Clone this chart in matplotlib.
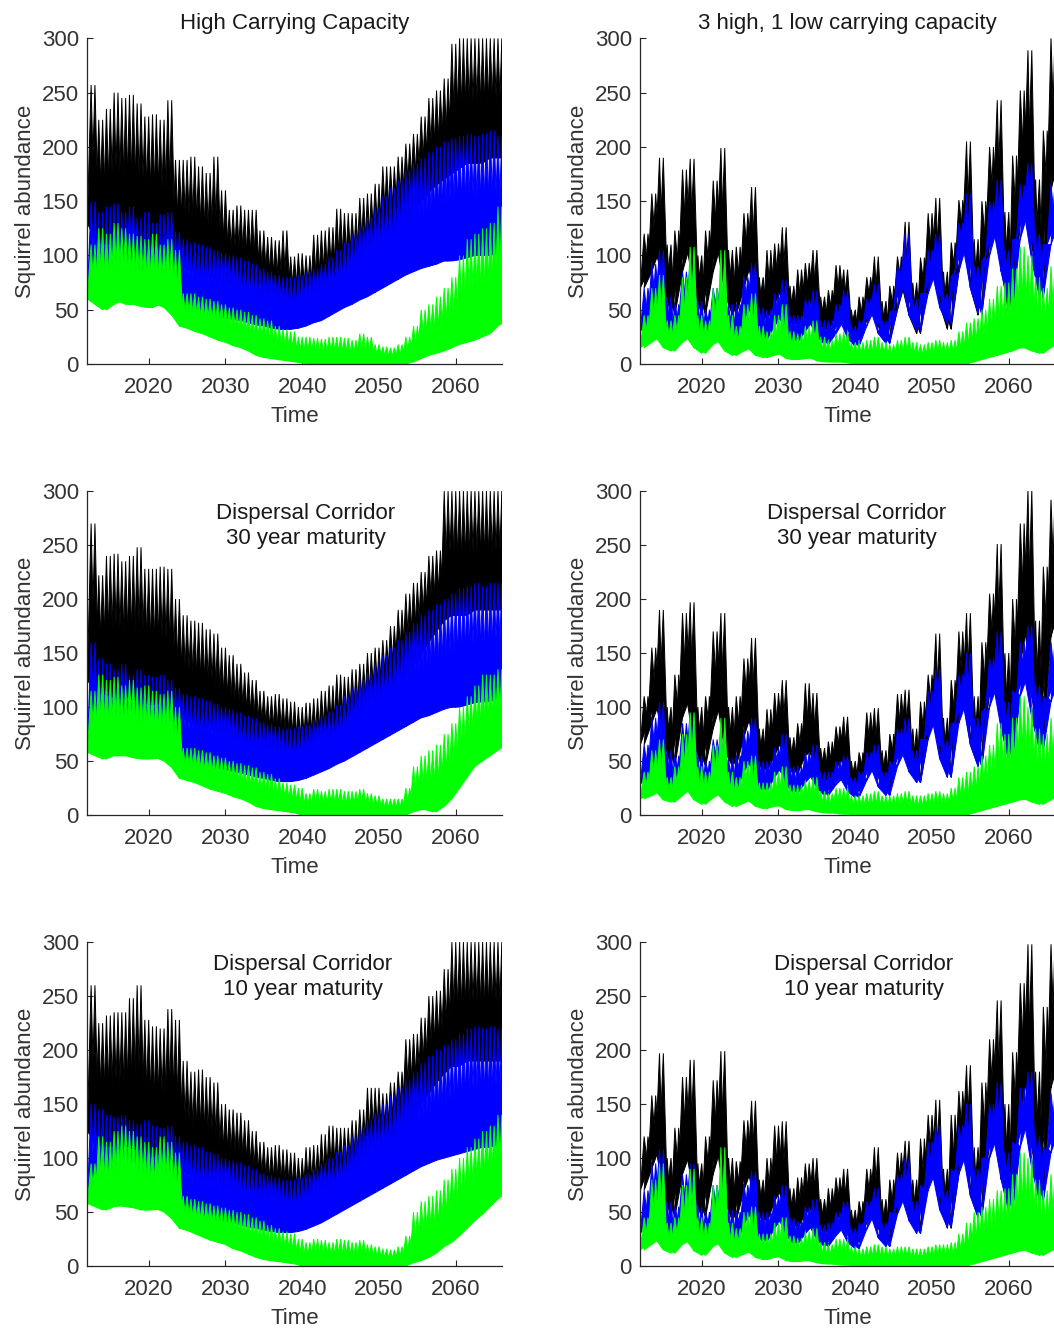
import matplotlib
matplotlib.use('Agg')
import matplotlib.pyplot as plt
import numpy as np

plt.rcParams['font.family'] = ['Liberation Sans', 'DejaVu Sans']

TEXT = '#262626'
BLACK = '#000000'
BLUE = '#0000ff'
GREEN = '#00ff00'

YEARS = np.arange(2012, 2067)
X_TICKS = [2020, 2030, 2040, 2050, 2060]
Y_TICKS = [0, 50, 100, 150, 200, 250, 300]

# ---- left column, top: High Carrying Capacity ----
A_BLACK_TOP = [257, 225, 235, 250, 245, 248, 240, 228, 230, 225, 243,
               188, 188, 191, 182, 176, 191, 160, 142, 146, 142, 142,
               123, 117, 114, 123, 99, 102, 100, 119, 123, 126, 143,
               139, 139, 153, 157, 166, 182, 182, 191, 203, 212, 228,
               245, 252, 263, 295, 300, 300, 300, 300, 300, 300, 300]
A_BLACK_LOW = [130, 115, 110, 112, 108, 110, 105, 110, 100, 105, 100,
               95, 90, 88, 85, 82, 80, 78, 75, 72, 70, 66,
               62, 58, 55, 52, 50, 48, 48, 50, 52, 56, 60,
               65, 70, 76, 82, 90, 100, 110, 120, 130, 140, 150,
               158, 165, 170, 175, 180, 185, 185, 185, 190, 190, 190]
A_BLUE_TOP = [150, 140, 145, 148, 140, 145, 135, 140, 130, 138, 140,
              122, 115, 112, 110, 108, 105, 102, 100, 98, 95, 92,
              88, 85, 82, 80, 80, 82, 85, 88, 92, 98, 105,
              112, 120, 128, 135, 145, 155, 162, 170, 178, 185, 190,
              195, 200, 205, 208, 210, 212, 210, 212, 215, 210, 205]
A_BLUE_LOW = [62, 60, 58, 60, 58, 60, 56, 58, 55, 58, 56,
              55, 50, 49, 48, 46, 45, 43, 42, 41, 40, 38,
              36, 35, 33, 32, 32, 33, 35, 38, 40, 44, 48,
              52, 55, 59, 62, 66, 70, 74, 78, 82, 85, 88,
              90, 92, 95, 95, 96, 98, 100, 100, 100, 102, 100]
A_GREEN_TOP = [110, 125, 120, 130, 125, 120, 118, 115, 120, 110, 115,
               105, 65, 65, 62, 60, 58, 55, 52, 50, 48, 45,
               42, 40, 35, 32, 30, 25, 25, 24, 23, 25, 25,
               24, 22, 28, 25, 18, 16, 15, 18, 25, 35, 50,
               55, 62, 70, 80, 100, 115, 120, 125, 130, 145, 130]
A_GREEN_LOW = [60, 55, 50, 55, 58, 55, 55, 53, 52, 55, 52,
               45, 35, 33, 30, 28, 25, 22, 20, 17, 15, 12,
               8, 6, 5, 4, 3, 2, 1, 0, 0, 0, 0,
               0, 0, 0, 0, 0, 0, 0, 0, 0, 2, 5,
               8, 10, 12, 15, 18, 20, 22, 25, 28, 35, 40]

# ---- left column, middle: corridor, 30 year maturity ----
B_BLACK_TOP = [270, 222, 240, 242, 235, 240, 248, 228, 228, 230, 228,
               200, 185, 180, 178, 172, 168, 155, 148, 140, 132, 125,
               115, 110, 112, 108, 105, 100, 104, 108, 115, 120, 130,
               128, 135, 140, 150, 155, 162, 175, 190, 205, 215, 225,
               240, 245, 300, 300, 300, 300, 300, 300, 300, 300, 290]
B_BLACK_LOW = [125, 115, 112, 110, 108, 110, 106, 108, 102, 104, 100,
               95, 90, 88, 84, 82, 80, 76, 74, 70, 68, 65,
               62, 58, 55, 52, 50, 48, 48, 50, 52, 55, 58,
               62, 68, 74, 80, 88, 98, 108, 118, 128, 138, 148,
               160, 170, 180, 185, 185, 185, 190, 190, 190, 190, 190]
B_BLUE_TOP = [160, 145, 140, 135, 140, 130, 135, 130, 128, 130, 125,
              118, 112, 110, 108, 106, 103, 100, 98, 95, 92, 90,
              86, 84, 82, 80, 80, 82, 84, 88, 92, 96, 102,
              110, 118, 125, 132, 140, 148, 155, 162, 170, 178, 185,
              190, 195, 200, 205, 210, 212, 215, 212, 215, 215, 210]
B_BLUE_LOW = [60, 58, 58, 56, 58, 56, 55, 56, 55, 56, 54,
              52, 50, 48, 47, 46, 44, 43, 42, 40, 39, 37,
              35, 34, 32, 31, 31, 32, 34, 37, 40, 43, 47,
              50, 54, 58, 62, 66, 70, 74, 78, 82, 86, 90,
              92, 95, 98, 100, 100, 102, 104, 105, 105, 108, 108]
B_GREEN_TOP = [115, 130, 125, 128, 120, 125, 118, 120, 115, 112, 115,
               100, 62, 62, 60, 58, 55, 53, 50, 48, 46, 44,
               40, 38, 34, 30, 28, 25, 20, 24, 22, 24, 24,
               22, 22, 24, 20, 18, 15, 15, 15, 25, 45, 55,
               60, 65, 75, 85, 100, 110, 120, 130, 130, 135, 120]
B_GREEN_LOW = [58, 55, 52, 55, 55, 55, 53, 52, 52, 53, 50,
               44, 34, 32, 30, 27, 24, 22, 20, 17, 15, 12,
               8, 6, 5, 4, 3, 2, 0, 0, 0, 0, 0,
               0, 0, 0, 0, 0, 0, 0, 0, 0, 3, 5,
               5, 3, 8, 15, 25, 35, 45, 50, 55, 60, 65]

# ---- left column, bottom: corridor, 10 year maturity ----
C_BLACK_TOP = [260, 225, 232, 235, 235, 248, 260, 228, 222, 220, 238,
               228, 190, 180, 182, 175, 170, 150, 145, 142, 135, 125,
               115, 110, 112, 108, 105, 100, 110, 112, 122, 130, 128,
               128, 135, 145, 165, 165, 160, 170, 180, 210, 215, 230,
               250, 255, 275, 300, 300, 300, 300, 300, 300, 300, 290]
C_BLACK_LOW = [125, 115, 110, 112, 108, 112, 108, 108, 100, 104, 102,
               98, 90, 86, 84, 80, 78, 75, 72, 70, 68, 64,
               60, 56, 54, 52, 50, 48, 50, 52, 55, 58, 62,
               66, 72, 78, 85, 92, 100, 108, 118, 128, 138, 150,
               160, 170, 178, 185, 185, 190, 190, 190, 190, 190, 190]
C_BLUE_TOP = [150, 145, 140, 138, 140, 135, 132, 135, 130, 128, 130,
              120, 115, 112, 110, 106, 104, 100, 98, 96, 93, 90,
              86, 84, 82, 80, 80, 82, 85, 90, 95, 100, 106,
              112, 120, 128, 135, 142, 150, 158, 165, 172, 180, 188,
              195, 200, 205, 210, 215, 220, 222, 220, 222, 220, 215]
C_BLUE_LOW = [60, 58, 57, 58, 56, 57, 55, 56, 54, 55, 53,
              52, 50, 48, 47, 45, 44, 42, 41, 40, 38, 36,
              35, 33, 32, 31, 31, 32, 34, 37, 40, 44, 48,
              52, 56, 60, 64, 68, 72, 76, 80, 84, 88, 92,
              95, 98, 100, 102, 104, 106, 108, 110, 110, 112, 112]
C_GREEN_TOP = [95, 120, 115, 125, 130, 125, 120, 115, 110, 120, 115,
               105, 65, 62, 60, 58, 56, 54, 52, 50, 48, 45,
               42, 38, 35, 32, 30, 25, 22, 25, 24, 22, 25,
               24, 22, 24, 20, 18, 16, 15, 18, 28, 50, 60,
               65, 70, 80, 90, 100, 110, 118, 125, 130, 140, 125]
C_GREEN_LOW = [58, 55, 52, 55, 56, 55, 54, 52, 52, 53, 50,
               44, 35, 33, 30, 27, 24, 22, 20, 16, 14, 11,
               8, 6, 5, 4, 3, 2, 0, 0, 0, 0, 0,
               0, 0, 0, 0, 0, 0, 0, 0, 0, 3, 5,
               8, 12, 18, 22, 28, 35, 42, 48, 55, 62, 68]

# ---- right column, top: 3 high, 1 low ----
D_BLACK_TOP = [120, 157, 190, 110, 123, 179, 189, 100, 123, 169, 199,
               105, 108, 139, 163, 80, 105, 111, 126, 72, 87, 93,
               105, 62, 68, 91, 87, 50, 62, 80, 99, 58, 72,
               99, 131, 75, 98, 139, 153, 85, 112, 151, 205, 115,
               150, 200, 243, 140, 192, 252, 289, 170, 215, 300, 270]
D_BLACK_LOW = [70, 85, 105, 75, 45, 85, 110, 70, 45, 85, 110,
               65, 45, 70, 95, 55, 40, 55, 70, 45, 35, 48,
               60, 40, 30, 45, 55, 35, 22, 40, 55, 35, 20,
               50, 75, 45, 28, 70, 90, 55, 32, 85, 120, 70,
               45, 110, 145, 90, 45, 130, 175, 110, 60, 160, 190]
D_BLUE_TOP = [70, 92, 105, 62, 55, 85, 95, 58, 50, 70, 82,
              55, 55, 80, 93, 52, 50, 65, 77, 45, 45, 60,
              68, 40, 40, 55, 68, 35, 40, 60, 74, 40, 48,
              90, 120, 60, 65, 105, 120, 65, 80, 130, 157, 90,
              95, 150, 170, 105, 115, 165, 185, 120, 110, 165, 170]
D_BLUE_LOW = [30, 40, 55, 35, 20, 40, 50, 30, 20, 35, 45,
              28, 20, 40, 55, 32, 22, 35, 45, 28, 20, 30,
              40, 25, 18, 28, 40, 24, 16, 35, 50, 28, 19,
              50, 80, 45, 31, 65, 85, 52, 37, 85, 110, 70,
              47, 100, 125, 85, 53, 115, 140, 95, 62, 110, 130]
D_GREEN_TOP = [45, 70, 82, 40, 45, 80, 108, 45, 40, 70, 105,
               45, 35, 55, 65, 35, 30, 45, 55, 30, 28, 35,
               40, 25, 22, 28, 30, 20, 20, 22, 25, 20, 18,
               22, 25, 20, 18, 20, 22, 20, 22, 30, 38, 42,
               50, 60, 72, 75, 88, 108, 100, 80, 70, 90, 95]
D_GREEN_LOW = [15, 20, 25, 15, 12, 20, 25, 15, 10, 18, 22,
               12, 8, 12, 15, 8, 6, 8, 10, 5, 4, 5,
               6, 3, 2, 2, 2, 1, 0, 0, 0, 0, 0,
               0, 0, 0, 0, 0, 0, 0, 0, 0, 0, 2,
               4, 6, 8, 10, 12, 15, 15, 12, 10, 15, 20]

# ---- right column, middle: corridor, 30 year maturity ----
E_BLACK_TOP = [110, 155, 190, 100, 130, 187, 197, 100, 110, 170, 187,
               100, 110, 145, 164, 80, 98, 113, 125, 72, 85, 122,
               113, 62, 68, 82, 91, 50, 58, 95, 99, 60, 75,
               112, 116, 80, 105, 130, 168, 90, 125, 170, 187, 110,
               160, 205, 251, 150, 200, 270, 301, 180, 230, 292, 280]
E_BLACK_LOW = [65, 85, 105, 70, 45, 90, 110, 65, 45, 80, 105,
               60, 45, 72, 95, 55, 40, 55, 70, 45, 38, 55,
               60, 40, 30, 42, 55, 32, 22, 42, 55, 35, 22,
               55, 70, 45, 30, 72, 95, 55, 35, 90, 110, 65,
               45, 115, 150, 90, 50, 140, 180, 110, 65, 165, 190]
E_BLUE_TOP = [65, 90, 105, 60, 55, 85, 95, 55, 50, 70, 80,
              52, 55, 78, 90, 50, 50, 62, 75, 45, 45, 58,
              65, 40, 40, 50, 55, 35, 40, 58, 65, 40, 50,
              80, 90, 60, 70, 115, 135, 70, 85, 130, 150, 90,
              95, 145, 170, 105, 115, 160, 175, 120, 110, 160, 165]
E_BLUE_LOW = [28, 40, 52, 32, 20, 40, 50, 28, 20, 35, 45,
              28, 22, 40, 52, 30, 22, 35, 45, 28, 20, 30,
              38, 25, 18, 28, 35, 22, 16, 32, 45, 26, 18,
              45, 60, 40, 30, 70, 90, 52, 35, 85, 105, 65,
              45, 100, 120, 80, 50, 110, 130, 90, 60, 105, 125]
E_GREEN_TOP = [40, 60, 70, 35, 45, 75, 95, 45, 40, 65, 90,
               40, 35, 50, 55, 30, 30, 40, 45, 28, 28, 32,
               35, 22, 20, 25, 25, 18, 18, 20, 22, 18, 18,
               20, 22, 18, 18, 20, 22, 20, 25, 35, 40, 45,
               55, 65, 85, 75, 90, 110, 100, 80, 75, 90, 95]
E_GREEN_LOW = [15, 18, 22, 14, 12, 18, 24, 14, 10, 16, 20,
               12, 8, 11, 14, 8, 6, 8, 9, 5, 4, 5,
               5, 3, 2, 2, 1, 1, 0, 0, 0, 0, 0,
               0, 0, 0, 0, 0, 0, 0, 0, 0, 0, 2,
               4, 6, 8, 10, 12, 14, 15, 12, 10, 14, 18]

# ---- right column, bottom: corridor, 10 year maturity ----
F_BLACK_TOP = [120, 158, 197, 100, 128, 175, 191, 95, 120, 172, 199,
               100, 97, 135, 153, 80, 100, 130, 134, 72, 82, 95,
               100, 62, 72, 82, 90, 52, 60, 90, 110, 62, 80,
               105, 116, 80, 118, 140, 154, 90, 140, 162, 186, 110,
               170, 210, 246, 150, 198, 262, 298, 180, 240, 298, 280]
F_BLACK_LOW = [70, 90, 110, 70, 45, 85, 105, 65, 45, 85, 110,
               60, 42, 70, 90, 55, 40, 60, 72, 45, 35, 48,
               55, 38, 30, 42, 52, 32, 22, 40, 58, 35, 22,
               50, 70, 45, 32, 75, 90, 55, 35, 85, 115, 65,
               45, 115, 150, 90, 50, 140, 180, 110, 65, 165, 190]
F_BLUE_TOP = [70, 95, 108, 60, 55, 85, 95, 55, 50, 75, 85,
              52, 50, 75, 88, 50, 50, 65, 75, 45, 42, 55,
              62, 38, 40, 50, 60, 35, 40, 60, 72, 40, 50,
              85, 100, 60, 75, 115, 130, 70, 90, 130, 150, 90,
              100, 150, 170, 105, 115, 165, 180, 120, 110, 160, 165]
F_BLUE_LOW = [30, 42, 55, 32, 18, 40, 50, 28, 20, 36, 48,
              26, 20, 38, 52, 30, 22, 35, 45, 28, 20, 30,
              38, 24, 18, 28, 36, 22, 16, 34, 48, 26, 18,
              48, 65, 42, 30, 70, 88, 52, 36, 85, 105, 65,
              45, 100, 120, 80, 50, 110, 135, 90, 60, 105, 125]
F_GREEN_TOP = [45, 80, 95, 40, 45, 75, 90, 45, 40, 75, 110,
               40, 35, 50, 55, 30, 30, 40, 45, 28, 26, 32,
               35, 22, 20, 25, 25, 18, 16, 18, 20, 18, 16,
               18, 18, 16, 16, 18, 20, 20, 22, 30, 40, 50,
               55, 62, 70, 72, 85, 105, 100, 80, 70, 85, 90]
F_GREEN_LOW = [15, 20, 25, 15, 12, 20, 24, 14, 10, 18, 22,
               12, 8, 11, 14, 8, 6, 8, 9, 5, 4, 5,
               5, 3, 2, 2, 1, 1, 0, 0, 0, 0, 0,
               0, 0, 0, 0, 0, 0, 0, 0, 0, 0, 2,
               4, 6, 8, 10, 12, 14, 15, 12, 10, 14, 18]

# (rect, title, inner note, bands)
panels = [
    ([0.0828, 0.7267, 0.3933, 0.2445], 'High Carrying Capacity', None,
     [(A_BLACK_TOP, A_BLACK_LOW, BLACK), (A_BLUE_TOP, A_BLUE_LOW, BLUE), (A_GREEN_TOP, A_GREEN_LOW, GREEN)]),
    ([0.6075, 0.7267, 0.3933, 0.2445], '3 high, 1 low carrying capacity', None,
     [(D_BLACK_TOP, D_BLACK_LOW, BLACK), (D_BLUE_TOP, D_BLUE_LOW, BLUE), (D_GREEN_TOP, D_GREEN_LOW, GREEN)]),
    ([0.0828, 0.3881, 0.3933, 0.2432], None, ('Dispersal Corridor\n30 year maturity', 2040.5),
     [(B_BLACK_TOP, B_BLACK_LOW, BLACK), (B_BLUE_TOP, B_BLUE_LOW, BLUE), (B_GREEN_TOP, B_GREEN_LOW, GREEN)]),
    ([0.6075, 0.3881, 0.3933, 0.2432], None, ('Dispersal Corridor\n30 year maturity', 2040.2),
     [(E_BLACK_TOP, E_BLACK_LOW, BLACK), (E_BLUE_TOP, E_BLUE_LOW, BLUE), (E_GREEN_TOP, E_GREEN_LOW, GREEN)]),
    ([0.0828, 0.0495, 0.3933, 0.2432], None, ('Dispersal Corridor\n10 year maturity', 2040.1),
     [(C_BLACK_TOP, C_BLACK_LOW, BLACK), (C_BLUE_TOP, C_BLUE_LOW, BLUE), (C_GREEN_TOP, C_GREEN_LOW, GREEN)]),
    ([0.6075, 0.0495, 0.3933, 0.2432], None, ('Dispersal Corridor\n10 year maturity', 2041.1),
     [(F_BLACK_TOP, F_BLACK_LOW, BLACK), (F_BLUE_TOP, F_BLUE_LOW, BLUE), (F_GREEN_TOP, F_GREEN_LOW, GREEN)]),
]


def draw_band(ax, top, low, color, z):
    # many overlapping runs: yearly spikes drawn twice, half a season apart
    top = np.asarray(top, float)
    low = np.asarray(low, float)
    ys = np.column_stack([low, top]).ravel()
    for shift in (0.0, 0.5):
        xs = np.column_stack([YEARS, YEARS + 0.5]).ravel() + shift
        ax.fill(np.concatenate([xs, YEARS[::-1] + shift]),
                np.concatenate([ys, low[::-1]]),
                fc=color, ec=color, lw=0.7, zorder=z)


fig = plt.figure(figsize=(10.54, 13.32), dpi=100)
fig.patch.set_facecolor('white')

for rect, title, note, bands in panels:
    ax = fig.add_axes(rect)
    for z, (top, low, color) in enumerate(bands):
        draw_band(ax, top, low, color, 2 + z)
    ax.set_xlim(2012, 2066)
    ax.set_ylim(0, 300)
    ax.set_xticks(X_TICKS)
    ax.set_yticks(Y_TICKS)
    for s in ['top', 'right']:
        ax.spines[s].set_visible(False)
    for s in ['left', 'bottom']:
        ax.spines[s].set_color(TEXT)
        ax.spines[s].set_linewidth(0.9)
        ax.spines[s].set_zorder(10)
    ax.tick_params(direction='in', length=4, width=0.8, colors=TEXT,
                   labelsize=16, labelcolor='#333333')
    ax.tick_params(axis='x', pad=9)
    ax.tick_params(axis='y', pad=6)
    ax.set_xlabel('Time', fontsize=16, color='#333333', labelpad=6)
    ax.set_ylabel('Squirrel abundance', fontsize=16, color='#333333', labelpad=4)
    if title:
        ax.set_title(title, fontsize=16, color='#1a1a1a', pad=7)
    if note:
        ax.text(note[1], 268, note[0], fontsize=16, color='#1a1a1a',
                ha='center', va='center', linespacing=1.25, zorder=12)

plt.savefig('out.png', dpi=100, facecolor='white')
